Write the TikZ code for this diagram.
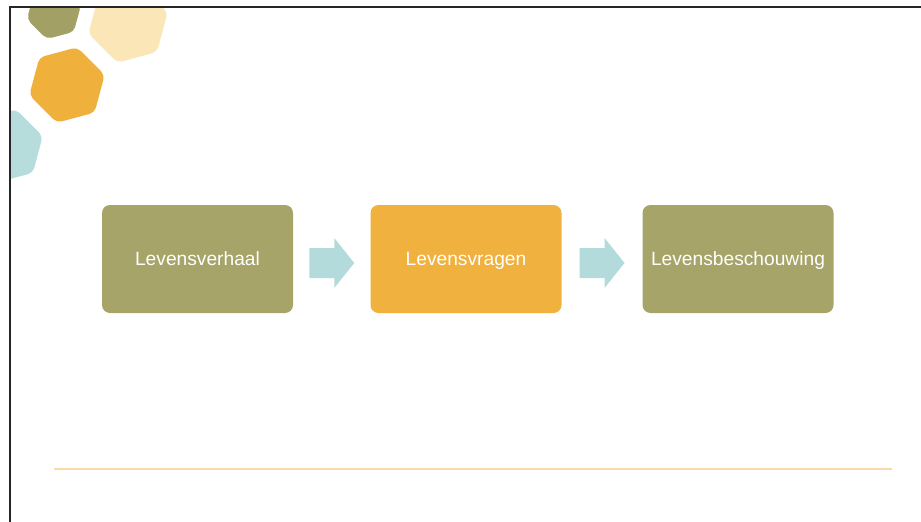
\documentclass[tikz,border=0pt]{standalone}
\usepackage{fontspec}
\setmainfont{Liberation Sans}
\usetikzlibrary{calc}
\definecolor{hxolive}{HTML}{A2A065}
\definecolor{hxcream}{HTML}{FBE6B8}
\definecolor{hxorange}{HTML}{EFB03C}
\definecolor{hxteal}{HTML}{B6DCDC}
\definecolor{bxolive}{HTML}{A6A469}
\definecolor{bxorange}{HTML}{F0B13E}
\definecolor{arteal}{HTML}{B4DBDB}
\definecolor{lnorange}{HTML}{FAD8A8}
\tikzset{
  box/.style={rounded corners=8pt, minimum width=191pt, minimum height=108pt,
    inner sep=0pt, text=white, font=\fontsize{19.2}{22}\selectfont,
    text height=15pt, text depth=2pt},
  blockarrow/.style={fill=arteal},
  hexshape/.style={rounded corners=5pt},
  frameline/.style={line width=1.4pt, black!85},
  footline/.style={line width=1.6pt, lnorange}
}
\begin{document}
\begin{tikzpicture}[x=1pt,y=-1pt]
\useasboundingbox (0,0) rectangle (921,522);
\fill[white] (0,0) rectangle (921,522);
% corner hexagons
\begin{scope}
\clip (10,7) rectangle (921,522);
\foreach \cx/\cy/\r/\col in {54/12/28/hxolive, 128/23/41/hxcream, 67/85/39/hxorange, 6/146/38/hxteal}{
  \fill[\col, hexshape]
    ($(\cx,\cy)+({\r*cos(75)},{-\r*sin(75)})$) --
    ($(\cx,\cy)+({\r*cos(15)},{-\r*sin(15)})$) --
    ($(\cx,\cy)+({\r*cos(-45)},{-\r*sin(-45)})$) --
    ($(\cx,\cy)+({\r*cos(-105)},{-\r*sin(-105)})$) --
    ($(\cx,\cy)+({\r*cos(-165)},{-\r*sin(-165)})$) --
    ($(\cx,\cy)+({\r*cos(135)},{-\r*sin(135)})$) -- cycle;
}
\end{scope}
% frame
\coordinate (ftr) at (921,7);
\coordinate (ftl) at (10,7);
\coordinate (fbl) at (10,522);
\draw[frameline] (ftr) -- (ftl) -- (fbl);
% boxes
\node[box, fill=bxolive] (b1) at (197.5,259) {Levensverhaal};
\node[box, fill=bxorange] (b2) at (466,259) {Levensvragen};
\node[box, fill=bxolive] (b3) at (738,259) {Levensbeschouwing};
% block arrows
\coordinate (a1) at ($(b1.east)!0.5!(b2.west)+(0,4)$);
\coordinate (a2) at ($(b2.east)!0.5!(b3.west)+(0,4)$);
\foreach \c in {a1,a2}{
  \fill[blockarrow] ($(\c)+(-22.5,-15)$) -- ($(\c)+(2.5,-15)$) -- ($(\c)+(2.5,-25)$)
    -- ($(\c)+(22.5,0)$) -- ($(\c)+(2.5,25)$) -- ($(\c)+(2.5,15)$)
    -- ($(\c)+(-22.5,15)$) -- cycle;
}
% footer line
\coordinate (l1) at (54,469);
\coordinate (l2) at (892,469);
\draw[footline] (l1) -- (l2);
\end{tikzpicture}
\end{document}
